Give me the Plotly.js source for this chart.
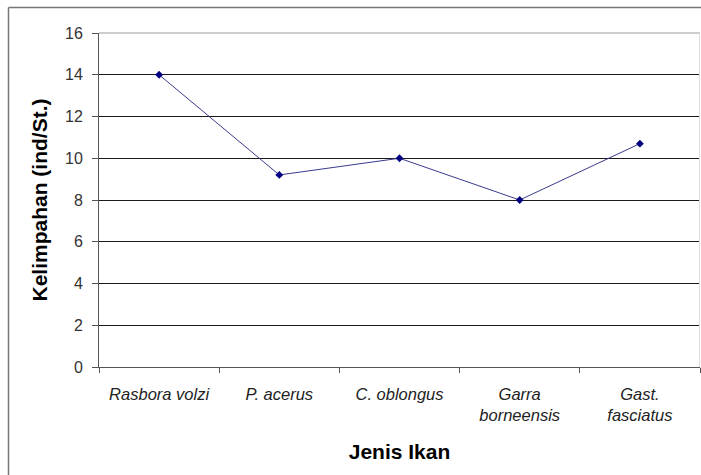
<!DOCTYPE html>
<html>
<head>
<meta charset="utf-8">
<script src="https://cdn.plot.ly/plotly-3.0.1.min.js"></script>
<style>
html,body{margin:0;padding:0;background:#fff;}
#chart{width:701px;height:475px;}
</style>
</head>
<body>
<div id="chart"></div>
<script>
var categories = ["Rasbora volzi", "P. acerus", "C. oblongus", "Garra<br>borneensis", "Gast.<br>fasciatus"];
var values = [14, 9.2, 10, 8, 10.7];
var yTicks = [0, 2, 4, 6, 8, 10, 12, 14, 16];

var trace = {
  x: categories,
  y: values,
  type: 'scatter',
  mode: 'lines+markers',
  line: {color: '#3a3a8c', width: 1},
  marker: {symbol: 'diamond', color: '#000080', size: 6},
  cliponaxis: false,
  hoverinfo: 'skip'
};

var layout = {
  width: 701,
  height: 475,
  margin: {l: 99, r: 1, t: 33, b: 108},
  paper_bgcolor: '#ffffff',
  plot_bgcolor: '#ffffff',
  showlegend: false,
  font: {family: 'Liberation Sans, Arial, sans-serif', color: '#000'},
  xaxis: {
    type: 'category',
    range: [-0.5, 4.5],
    showgrid: false,
    zeroline: false,
    showline: true,
    linecolor: '#555555',
    linewidth: 1,
    ticks: 'outside',
    tickson: 'boundaries',
    ticklen: 5,
    tickcolor: '#555555',
    ticklabelstandoff: 12,
    tickfont: {family: 'Liberation Sans, Arial, sans-serif', size: 16.5, color: '#222', style: 'italic'},
    automargin: false,
    fixedrange: true,
    title: {text: '<b>Jenis Ikan</b>', font: {size: 21, color: '#000'}, standoff: 21}
  },
  yaxis: {
    range: [0, 16],
    tickvals: yTicks,
    ticktext: yTicks.map(String),
    showgrid: true,
    gridcolor: '#1a1a1a',
    gridwidth: 1,
    zeroline: false,
    showline: true,
    linecolor: '#555555',
    linewidth: 1,
    ticks: 'outside',
    ticklen: 6,
    tickcolor: '#555555',
    ticklabelstandoff: 6,
    tickfont: {family: 'Liberation Sans, Arial, sans-serif', size: 16, color: '#333'},
    automargin: false,
    fixedrange: true,
    title: {text: '<b>Kelimpahan (ind/St.)</b>', font: {size: 21, color: '#000'}, standoff: 11}
  },
  shapes: [
    {type: 'line', xref: 'paper', yref: 'paper', x0: 0, x1: 1, y0: 1, y1: 1, line: {color: '#9a9a9a', width: 1}},
    {type: 'line', xref: 'paper', yref: 'paper', x0: 0.9992, x1: 0.9992, y0: 0, y1: 1, line: {color: '#dddddd', width: 1}},
    {type: 'line', xref: 'paper', yref: 'paper', x0: -0.1506, x1: 1.01, y0: 1.0763, y1: 1.0763, line: {color: '#777777', width: 1.5}},
    {type: 'line', xref: 'paper', yref: 'paper', x0: -0.1506, x1: -0.1506, y0: -0.33, y1: 1.0763, line: {color: '#777777', width: 1.5}}
  ]
};

Plotly.newPlot('chart', [trace], layout, {displayModeBar: false, staticPlot: true});
</script>
</body>
</html>
